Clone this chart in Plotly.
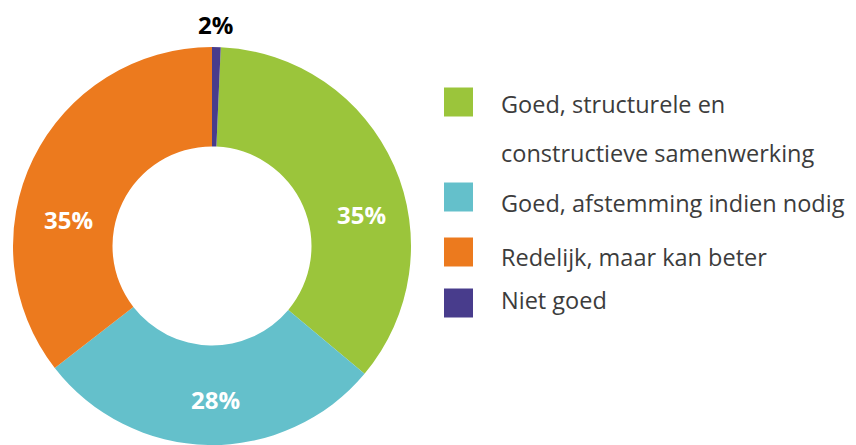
import plotly.graph_objects as go

# the page body has an 8px margin, so the figure is drawn 8px smaller and
# every position below is given in window pixels and shifted back by OFF
OFF = 8
W, H = 856 - OFF, 445 - OFF

# slices, clockwise from the top (the small purple slice sits just right of 12 o'clock)
categories = ['Goed, structurele en\nconstructieve samenwerking',
              'Goed, afstemming indien nodig',
              'Redelijk, maar kan beter',
              'Niet goed']
shares = [35.4, 28.4, 35.5, 0.7]          # slice sizes as measured on the picture
pct_labels = ['35%', '28%', '35%', '2%']  # printed percentages
colors = ['#9bc53b', '#64c0cb', '#ec7a1e', '#483c8c']


def px(x, y):
    return (x - OFF) / W, 1 - (y - OFF) / H


fig = go.Figure()
x0, _ = px(13, 0)
x1, _ = px(411, 0)
_, ytop = px(0, 47)
fig.add_trace(go.Pie(labels=[c.replace('\n', ' ') for c in categories], values=shares,
                     sort=False, direction='clockwise', rotation=shares[-1] / 100 * 360,
                     hole=0.5, textinfo='none', hoverinfo='label+percent',
                     marker=dict(colors=colors, line=dict(width=0)),
                     domain=dict(x=[x0, x1], y=[0, ytop]), showlegend=False))

# percentage labels
label_pos = [(361, 214), (215, 399), (68, 219), (215, 25)]
for txt, (x, y), col in zip(pct_labels, label_pos, ['white', 'white', 'white', 'black']):
    ax, ay = px(x, y)
    fig.add_annotation(x=ax, y=ay, xref='paper', yref='paper', text='<b>' + txt + '</b>',
                       xanchor='center', yanchor='middle', showarrow=False,
                       font=dict(family='Open Sans', size=24, color=col))

# hand-made legend with big squares
row_y = [102, 197, 252, 303]
text_y = [[104, 153], [203], [257], [300]]
for cat, col, y, tys in zip(categories, colors, row_y, text_y):
    _, ya = px(0, y - 14.5)
    _, yb = px(0, y + 14.5)
    xa, _ = px(444, 0)
    xb, _ = px(473, 0)
    fig.add_shape(type='rect', xref='paper', yref='paper', x0=xa, x1=xb, y0=yb, y1=ya,
                  fillcolor=col, line=dict(width=0))
    for line, ty in zip(cat.split('\n'), tys):
        ax, ay = px(499, ty)
        fig.add_annotation(x=ax, y=ay, xref='paper', yref='paper', text=line,
                           xanchor='left', yanchor='middle', showarrow=False,
                           font=dict(family='Open Sans', size=23.5, color='#3c3c3c'))

fig.update_layout(width=W, height=H, margin=dict(l=0, r=0, t=0, b=0),
                  paper_bgcolor='white', plot_bgcolor='white')
fig.write_html("out.html")
